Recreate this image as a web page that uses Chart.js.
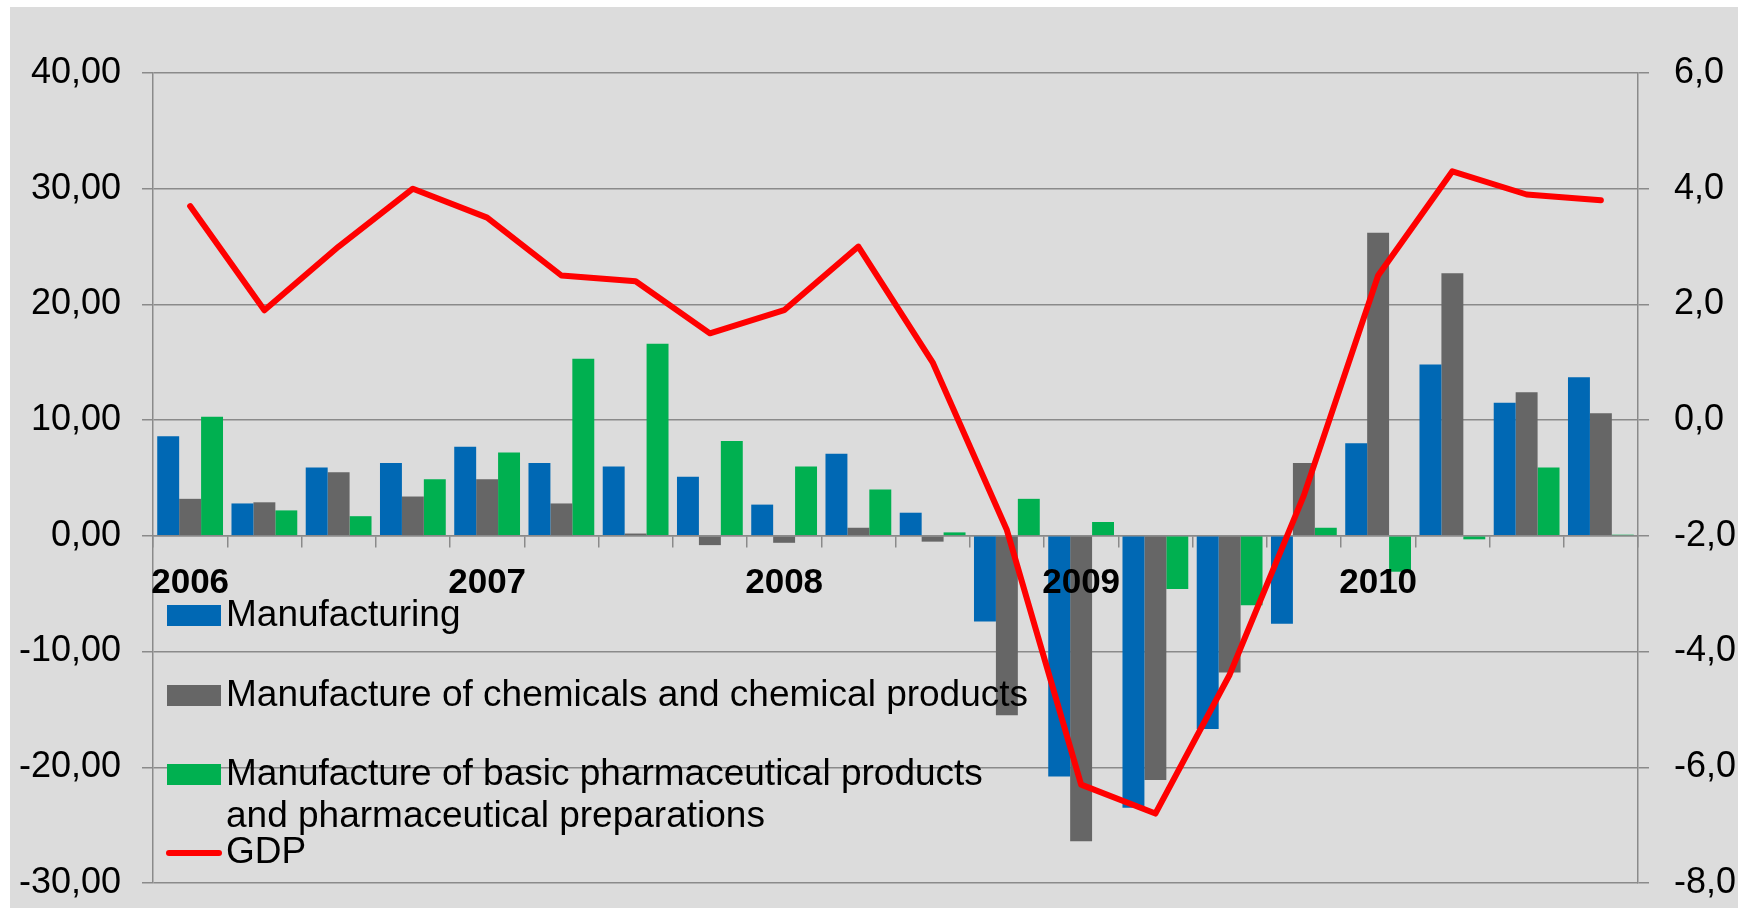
<!DOCTYPE html>
<html>
<head>
<meta charset="utf-8">
<script src="https://cdn.jsdelivr.net/npm/chart.js@4.4.1/dist/chart.umd.min.js"></script>
<style>
  body { margin: 0; background: #fff; }
  #wrap { position: absolute; left: 10px; top: 7px; width: 1728px; height: 901px; background: #dcdcdc; }
</style>
</head>
<body>
<div id="wrap"><canvas id="chart"></canvas></div>
<script>
// quarters 2006Q1 .. 2010Q4, year shown on the first quarter only
var categories = ['2006', '', '', '', '2007', '', '', '', '2008', '', '', '', '2009', '', '', '', '2010', '', '', ''];

var manufacturing = [8.6, 2.8, 5.9, 6.3, 7.7, 6.3, 6.0, 5.1, 2.7, 7.1, 2.0, -7.4, -20.8, -23.5, -16.7, -7.6, 8.0, 14.8, 11.5, 13.7];
var chemicals = [3.2, 2.9, 5.5, 3.4, 4.9, 2.8, 0.2, -0.8, -0.6, 0.7, -0.5, -15.5, -26.4, -21.1, -11.8, 6.3, 26.2, 22.7, 12.4, 10.6];
var pharma = [10.3, 2.2, 1.7, 4.9, 7.2, 15.3, 16.6, 8.2, 6.0, 4.0, 0.3, 3.2, 1.2, -4.6, -6.0, 0.7, -3.1, -0.3, 5.9, 0.1];
var gdp = [3.7, 1.9, 3.0, 4.0, 3.5, 2.5, 2.4, 1.5, 1.9, 3.0, 1.0, -1.9, -6.3, -6.8, -4.4, -1.3, 2.5, 4.3, 3.9, 3.8];

var seriesNames = [
    'Manufacturing',
    'Manufacture of chemicals and chemical products',
    ['Manufacture of basic pharmaceutical products', 'and pharmaceutical preparations'],
    'GDP'
];

var font = "'Liberation Sans', Arial, sans-serif";
var gridColor = '#8a8a8a';

// legend sits inside the plot, bottom left, like the Excel original
var insideLegend = {
    id: 'insideLegend',
    afterDraw: function(chart) {
        var ctx = chart.ctx;
        var baselines = [619, 699, 778, 856];
        var boxX = 157, boxW = 54, textX = 216;
        ctx.save();
        ctx.font = '37px ' + font;
        ctx.textBaseline = 'alphabetic';
        chart.data.datasets.forEach(function(ds, i) {
            var y = baselines[i];
            if (ds.type === 'line') {
                ctx.strokeStyle = ds.borderColor;
                ctx.lineWidth = 6;
                ctx.lineCap = 'round';
                ctx.beginPath();
                ctx.moveTo(boxX + 2, y - 10);
                ctx.lineTo(boxX + boxW - 2, y - 10);
                ctx.stroke();
            } else {
                ctx.fillStyle = ds.backgroundColor;
                ctx.fillRect(boxX, y - 21, boxW, 21);
            }
            ctx.fillStyle = '#000';
            var lines = Array.isArray(ds.label) ? ds.label : [ds.label];
            lines.forEach(function(line, j) {
                ctx.fillText(line, textX, y + j * 42);
            });
        });
        ctx.restore();
    }
};

function barSet(label, data, color) {
    return {
        type: 'bar',
        label: label,
        data: data,
        backgroundColor: color,
        borderWidth: 0,
        yAxisID: 'y',
        categoryPercentage: 0.886,
        barPercentage: 1.0,
        order: 1
    };
}

// fixed axis widths, no extra room for overflowing end labels
function fitWidth(w) {
    return function(s) {
        s.width = w;
        s.paddingTop = 0;
        s.paddingBottom = 0;
    };
}

new Chart(document.getElementById('chart'), {
    data: {
        labels: categories,
        datasets: [
            barSet(seriesNames[0], manufacturing, '#0068b4'),
            barSet(seriesNames[1], chemicals, '#666666'),
            barSet(seriesNames[2], pharma, '#00b050'),
            {
                type: 'line',
                label: seriesNames[3],
                data: gdp,
                borderColor: '#ff0000',
                backgroundColor: '#ff0000',
                borderWidth: 6,
                borderCapStyle: 'round',
                borderJoinStyle: 'round',
                pointRadius: 0,
                tension: 0,
                yAxisID: 'y2',
                order: 0
            }
        ]
    },
    options: {
        responsive: true,
        maintainAspectRatio: false,
        animation: false,
        devicePixelRatio: 1,
        layout: { padding: { top: 66, bottom: 25, left: 0, right: 0 } },
        plugins: {
            legend: { display: false },
            tooltip: { enabled: false }
        },
        scales: {
            x: {
                position: { y: 0 },
                grid: { offset: true, drawOnChartArea: false, tickLength: 11, color: gridColor, lineWidth: 1.5 },
                border: { color: gridColor, width: 1.5 },
                ticks: {
                    z: 1, // year labels on top of the bars
                    autoSkip: false,
                    maxRotation: 0,
                    padding: 15,
                    color: '#000',
                    font: { family: font, size: 35, weight: 'bold' }
                },
                afterFit: function(s) { s.paddingLeft = 0; s.paddingRight = 0; }
            },
            y: {
                position: 'left',
                min: -30,
                max: 40,
                ticks: {
                    stepSize: 10,
                    padding: 21,
                    color: '#000',
                    font: { family: font, size: 36 },
                    callback: function(v) { return v.toFixed(2).replace('.', ','); }
                },
                grid: { color: gridColor, lineWidth: 1.5, tickLength: 11 },
                border: { color: gridColor, width: 1.5 },
                afterFit: fitWidth(143)
            },
            y2: {
                position: 'right',
                min: -8,
                max: 6,
                ticks: {
                    stepSize: 2,
                    padding: 25,
                    color: '#000',
                    font: { family: font, size: 36 },
                    callback: function(v) { return v.toFixed(1).replace('.', ','); }
                },
                grid: { drawOnChartArea: false, color: gridColor, lineWidth: 1.5, tickLength: 11 },
                border: { color: gridColor, width: 1.5 },
                afterFit: fitWidth(100)
            }
        }
    },
    plugins: [insideLegend]
});
</script>
</body>
</html>
